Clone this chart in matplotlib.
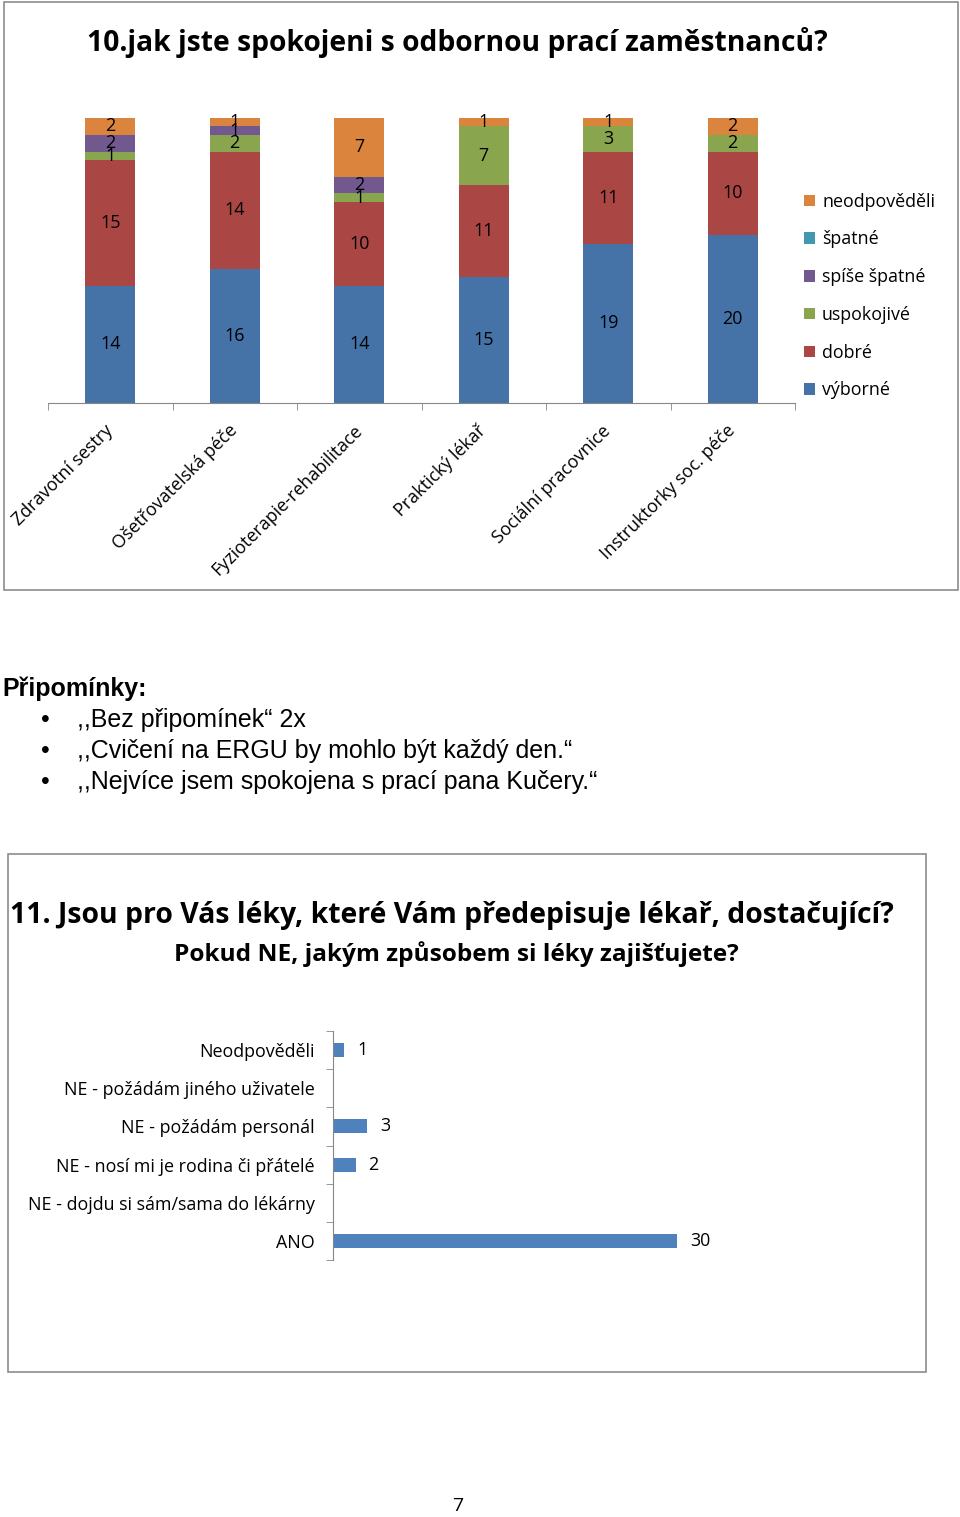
import matplotlib
matplotlib.use("Agg")
import matplotlib.pyplot as plt
from matplotlib.patches import Rectangle
import numpy as np

W, H = 960, 1517

# ---------------- data: chart 10 ----------------
categories1 = ["Zdravotní sestry", "Ošetřovatelská péče", "Fyzioterapie-rehabilitace",
               "Praktický lékař", "Sociální pracovnice", "Instruktorky soc. péče"]
series_names = ["výborné", "dobré", "uspokojivé", "spíše špatné", "špatné", "neodpověděli"]
vyborne      = [14, 16, 14, 15, 19, 20]
dobre        = [15, 14, 10, 11, 11, 10]
uspokojive   = [1, 2, 1, 7, 3, 2]
spise_spatne = [2, 1, 2, 0, 0, 0]
spatne       = [0, 0, 0, 0, 0, 0]
neodpovedeli = [2, 1, 7, 1, 1, 2]
series_values = [vyborne, dobre, uspokojive, spise_spatne, spatne, neodpovedeli]
series_colors = ["#4572A7", "#AA4643", "#89A54E", "#71588F", "#4198AF", "#DB843D"]

# ---------------- data: chart 11 ----------------
categories2 = ["ANO", "NE - dojdu si sám/sama do lékárny", "NE - nosí mi je rodina či přátelé",
               "NE - požádám personál", "NE - požádám jiného uživatele", "Neodpověděli"]
values2 = [30, 0, 2, 3, 0, 1]

title1 = "10.jak jste spokojeni s odbornou prací zaměstnanců?"
title2a = "11. Jsou pro Vás léky, které Vám předepisuje lékař, dostačující?"
title2b = "Pokud NE, jakým způsobem si léky zajišťujete?"
notes_head = "Připomínky:"
notes = [",,Bez připomínek\u201c 2x",
         ",,Cvičení na ERGU by mohlo být každý den.\u201c",
         ",,Nejvíce jsem spokojena s prací pana Kučery.\u201c"]
page_no = "7"

CAL = ["Open Sans", "DejaVu Sans"]
ARI = ["Liberation Sans", "DejaVu Sans"]
LBL = 12.9

fig = plt.figure(figsize=(W / 100, H / 100), dpi=100)
fig.patch.set_facecolor("white")

def fx(x):
    return x / W

def fy(y):
    return 1 - y / H

# frames
fig.patches.append(Rectangle((fx(4), fy(590)), (958 - 4) / W, (590 - 2) / H,
                             transform=fig.transFigure, fill=False,
                             edgecolor="#8c8c8c", linewidth=1.2))
fig.patches.append(Rectangle((fx(8), fy(1372)), (926 - 8) / W, (1372 - 854) / H,
                             transform=fig.transFigure, fill=False,
                             edgecolor="#8c8c8c", linewidth=1.2))

# ---------------- chart 10 ----------------
fig.text(fx(457), fy(42), title1, ha="center", va="center", fontsize=20.3,
         fontweight="bold", family=CAL)

ax1 = fig.add_axes([fx(48), fy(403), 747 / W, 285 / H])
x = np.arange(len(categories1))
bottom = np.zeros(len(categories1))
handles = []
for name, vals, col in zip(series_names, series_values, series_colors):
    vals = np.array(vals, dtype=float)
    b = ax1.bar(x, vals, width=0.4, bottom=bottom, color=col, label=name)
    handles.append(b)
    for xi, v, bt in zip(x, vals, bottom):
        if v > 0:
            ax1.text(xi, bt + v / 2, f"{int(v)}", ha="center", va="center",
                     fontsize=LBL, family=CAL, color="black")
    bottom += vals
ax1.set_xlim(-0.5, len(categories1) - 0.5)
ax1.set_ylim(0, 34)
for s in ["top", "right", "left"]:
    ax1.spines[s].set_visible(False)
ax1.spines["bottom"].set_color("#868686")
ax1.set_yticks([])
ax1.set_xticks(x)
ax1.set_xticklabels(categories1, rotation=45, ha="right", va="center",
                    rotation_mode="anchor", fontsize=LBL, family=CAL)
ax1.tick_params(axis="x", which="major", length=0, pad=18)
ax1.set_xticks(np.arange(-0.5, len(categories1) + 0.5, 1), minor=True)
ax1.tick_params(axis="x", which="minor", length=5, color="#868686", direction="out")

leg = ax1.legend(handles[::-1], series_names[::-1], loc="center left",
                 bbox_to_anchor=(fx(797), fy(296)), bbox_transform=fig.transFigure,
                 frameon=False, prop={"family": CAL, "size": LBL},
                 handlelength=0.6, handleheight=0.6, handletextpad=0.4,
                 labelspacing=1.1, borderaxespad=0)

# ---------------- notes ----------------
fig.text(fx(2), fy(689), notes_head, ha="left", va="center", fontsize=18,
         fontweight="bold", family=ARI)
for i, t in enumerate(notes):
    yy = 720 + 31 * i
    fig.text(fx(45), fy(yy), "\u2022", ha="center", va="center", fontsize=18, family=ARI)
    fig.text(fx(77), fy(yy), t, ha="left", va="center", fontsize=18, family=ARI)

# ---------------- chart 11 ----------------
fig.text(fx(452), fy(916), title2a, ha="center", va="center", fontsize=20.4,
         fontweight="bold", family=CAL)
fig.text(fx(456), fy(954), title2b, ha="center", va="center", fontsize=17.6,
         fontweight="bold", family=CAL)

ax2 = fig.add_axes([fx(333), fy(1260), 401.5 / W, 229 / H])
y = np.arange(len(categories2))
ax2.barh(y, values2, height=0.37, color="#4F81BD")
for yi, v in zip(y, values2):
    if v > 0:
        ax2.text(v + 1.1, yi, f"{v}", ha="left", va="center", fontsize=LBL,
                 family=CAL, color="black")
ax2.set_xlim(0, 35)
ax2.set_ylim(-0.5, len(categories2) - 0.5)
for s in ["top", "right", "bottom"]:
    ax2.spines[s].set_visible(False)
ax2.spines["left"].set_color("#868686")
ax2.set_xticks([])
ax2.set_yticks(y)
ax2.set_yticklabels(categories2, fontsize=LBL, family=CAL)
ax2.tick_params(axis="y", which="major", length=0, pad=13)
ax2.set_yticks(np.arange(-0.5, len(categories2) + 0.5, 1), minor=True)
ax2.tick_params(axis="y", which="minor", length=5, color="#868686", direction="out")

fig.text(fx(458), fy(1506), page_no, ha="center", va="center", fontsize=14, family=CAL)

fig.savefig("out.png", dpi=100)
